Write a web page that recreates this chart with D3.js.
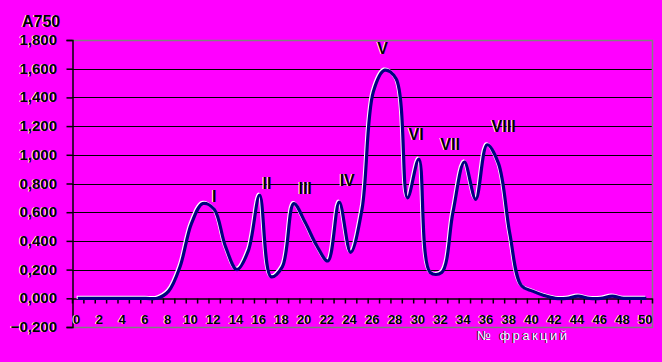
<!DOCTYPE html>
<html>
<head>
<meta charset="utf-8">
<script src="https://cdn.jsdelivr.net/npm/d3@7"></script>
<style>
  html, body { margin: 0; padding: 0; background: #ff00ff; }
  svg { display: block; }
  text { font-family: Arial, "Liberation Sans", sans-serif; }
</style>
</head>
<body>
<svg id="chart"></svg>
<script>
const width = 662;
const height = 362;

// fraction numbers and absorbance A750
const fractions = d3.range(0, 51);
const a750 = [
    0, 0, 0, 0, 0, 0, 0, 0, 0.05, 0.22,
    0.52, 0.66, 0.62, 0.36, 0.20, 0.33, 0.72, 0.15, 0.22, 0.66,
    0.53, 0.37, 0.26, 0.67, 0.32, 0.62, 1.44, 1.59, 1.53, 0.70,
    0.97, 0.18, 0.18, 0.60, 0.95, 0.69, 1.07, 0.94, 0.45, 0.09,
    0.05, 0.02, 0, 0, 0.015, 0, 0, 0.015, 0, 0,
    0
];
const peakNames = ["I", "II", "III", "IV", "V", "VI", "VII", "VIII"];
const peakAt = [12.0, 16.65, 20.0, 23.7, 26.8, 29.75, 32.75, 37.45];
const peakLabelY = [0.67, 0.76, 0.73, 0.78, 1.70, 1.10, 1.03, 1.16];
const yTicks = d3.range(-0.2, 1.81, 0.2).map(v => +v.toFixed(1));
const xLabels = d3.range(0, 51, 2);

const svg = d3.select("#chart")
    .attr("width", width)
    .attr("height", height);

const plot = { left: 72, right: 652, top: 40, bottom: 327 };

const x = d3.scaleLinear()
    .domain([-0.5, 50.5])
    .range([plot.left, plot.right]);

const y = d3.scaleLinear()
    .domain([-0.2, 1.8])
    .range([plot.bottom, plot.top]);

const fmt = v => d3.format(",.3f")(v).replace(".", ",");

// draws text twice: a shadow copy underneath, then the face
function shadowText(g, tx, ty, str, face, shadow, dx, dy) {
    g.append("text").attr("x", tx + dx).attr("y", ty + dy).attr("fill", shadow).text(str);
    return g.append("text").attr("x", tx).attr("y", ty).attr("fill", face).text(str);
}

// grid lines
svg.append("g")
    .selectAll("line")
    .data(yTicks.filter(v => v > 0 && v < 1.8))
    .enter().append("line")
    .attr("x1", plot.left).attr("x2", plot.right)
    .attr("y1", d => Math.round(y(d)) + 0.5).attr("y2", d => Math.round(y(d)) + 0.5)
    .attr("stroke", "#000")
    .attr("stroke-width", 1);

// plot border (grey) top, right, bottom
svg.append("path")
    .attr("d", `M${plot.left},${plot.top + 0.5}H${plot.right + 0.5}V${plot.bottom + 0.5}H${plot.left}`)
    .attr("fill", "none")
    .attr("stroke", "#808080")
    .attr("stroke-width", 1.5);

// y axis
const yAxis = svg.append("g")
    .attr("transform", `translate(${plot.left + 0.5},0)`)
    .call(d3.axisLeft(y).tickValues(yTicks).tickSize(6).tickFormat(""));
yAxis.select(".domain").attr("stroke", "#000").attr("stroke-width", 1.5);
yAxis.selectAll(".tick line").attr("stroke", "#000").attr("stroke-width", 1.5);

const yLab = svg.append("g")
    .attr("font-size", 15)
    .attr("font-weight", "bold")
    .attr("text-anchor", "end");
yTicks.forEach(v => {
    shadowText(yLab, 57, y(v) + 5, fmt(v), "#000", "#fff", -1, 0);
});

// x axis on the zero line, ticks between categories
const xAxis = svg.append("g")
    .attr("transform", `translate(0,${Math.round(y(0)) + 0.5})`)
    .call(d3.axisBottom(x).tickValues(d3.range(-0.5, 51, 1)).tickSize(5).tickFormat("").tickSizeOuter(0));
xAxis.select(".domain").attr("stroke", "#000").attr("stroke-width", 1.5);
xAxis.selectAll(".tick line").attr("stroke", "#000").attr("stroke-width", 1.5);

const xLab = svg.append("g")
    .attr("font-size", 13)
    .attr("font-weight", "bold")
    .attr("text-anchor", "middle");
xLabels.forEach(v => {
    shadowText(xLab, x(v) - 1, 324, String(v), "#000", "#fff", -1, 0);
});

// series line, smoothed
const line = d3.line()
    .x((d, i) => x(fractions[i]))
    .y(d => y(d))
    .curve(d3.curveCatmullRom.alpha(0.5));

svg.append("path")
    .datum(a750)
    .attr("d", line)
    .attr("transform", "translate(-1,-1)")
    .attr("fill", "none")
    .attr("stroke", "#fff")
    .attr("stroke-width", 3.2);

svg.append("path")
    .datum(a750)
    .attr("d", line)
    .attr("fill", "none")
    .attr("stroke", "#000080")
    .attr("stroke-width", 3.2);

// peak labels
const pk = svg.append("g")
    .attr("font-size", 16)
    .attr("font-weight", "bold")
    .attr("text-anchor", "middle");
peakNames.forEach((n, i) => {
    shadowText(pk, x(peakAt[i]), y(peakLabelY[i]), n, "#000", "#fff", -1, 0);
});

// axis titles
const t1 = svg.append("g").attr("font-size", 16).attr("font-weight", "bold");
shadowText(t1, 22, 27, "A750", "#000", "#fff", -1, 0);

const t2 = svg.append("g").attr("font-size", 13);
shadowText(t2, 477, 340, "№ фракций", "#fff", "#000", -1, 0);
t2.selectAll("text").attr("textLength", 90).attr("lengthAdjust", "spacing");
</script>
</body>
</html>
